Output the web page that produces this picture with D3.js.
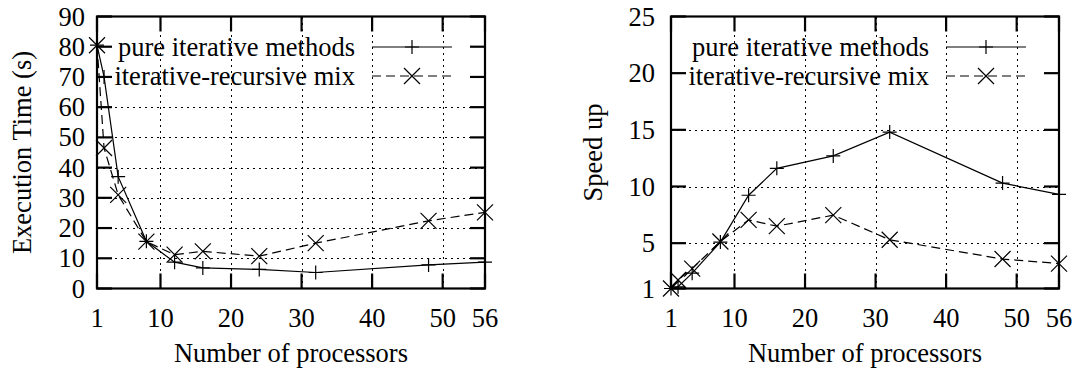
<!DOCTYPE html>
<html>
<head>
<meta charset="utf-8">
<script src="https://cdn.jsdelivr.net/npm/d3@7/dist/d3.min.js"></script>
<style>
html,body{margin:0;padding:0;background:#fff;}
svg{display:block;}
</style>
</head>
<body>
<svg id="chart" width="1074" height="369"></svg>
<script>
// ---- data ----
const processors = [1, 2, 4, 8, 12, 16, 24, 32, 48, 56];
const timePure = [80.5, 70, 37, 15.6, 8.7, 6.8, 6.3, 5.3, 7.8, 8.7];
const timeMix = [80.5, 46.5, 31, 15.5, 11.2, 12.3, 10.7, 15.0, 22.4, 25.2];
const speedPure = [1, 1.15, 2.35, 5.1, 9.23, 11.6, 12.7, 14.8, 10.3, 9.3];
const speedMix = [1, 1.75, 2.75, 5.15, 7.05, 6.5, 7.47, 5.3, 3.6, 3.2];
const xTicks = [1, 10, 20, 30, 40, 50, 56];
const timeTicks = [0, 10, 20, 30, 40, 50, 60, 70, 80, 90];
const speedTicks = [1, 5, 10, 15, 20, 25];
const seriesNames = ["pure iterative methods", "iterative-recursive mix"];
const xTitle = "Number of processors";
const timeTitle = "Execution Time (s)";
const speedTitle = "Speed up";

const svg = d3.select("#chart")
  .attr("font-family", "'Liberation Serif', 'Times New Roman', Times, 'DejaVu Serif', serif")
  .attr("font-size", 26.5);

function drawChart(o) {
  const g = svg.append("g");
  const x = d3.scaleLinear().domain([1, 56]).range([o.left, o.left + 388]);
  const y = d3.scaleLinear().domain(o.yDomain).range([288.5, 16.5]);
  const [x0, x1] = x.range();
  const [yb, yt] = y.range();
  const tickLen = 15;

  // grid
  const grid = g.append("g").attr("stroke", "#000").attr("stroke-width", 1)
    .attr("stroke-dasharray", "2,4").attr("shape-rendering", "crispEdges");
  xTicks.filter(v => v > 1 && v < 56).forEach(v => {
    grid.append("line").attr("x1", Math.round(x(v)) + 0.5).attr("x2", Math.round(x(v)) + 0.5)
      .attr("y1", yt).attr("y2", yb);
  });
  o.yTicks.filter(v => v > o.yDomain[0] && v < o.yDomain[1] && y(v) > 92).forEach(v => {
    grid.append("line").attr("y1", Math.round(y(v)) + 0.5).attr("y2", Math.round(y(v)) + 0.5)
      .attr("x1", x0).attr("x2", x1);
  });

  // ticks (all four sides, inward)
  const ticks = g.append("g").attr("stroke", "#000").attr("stroke-width", 2.2);
  xTicks.forEach(v => {
    ticks.append("line").attr("x1", x(v)).attr("x2", x(v)).attr("y1", yb).attr("y2", yb - tickLen);
    ticks.append("line").attr("x1", x(v)).attr("x2", x(v)).attr("y1", yt).attr("y2", yt + tickLen);
  });
  o.yTicks.forEach(v => {
    ticks.append("line").attr("y1", y(v)).attr("y2", y(v)).attr("x1", x0).attr("x2", x0 + tickLen);
    ticks.append("line").attr("y1", y(v)).attr("y2", y(v)).attr("x1", x1).attr("x2", x1 - tickLen);
  });

  // border
  g.append("rect").attr("x", x0).attr("y", yt).attr("width", x1 - x0).attr("height", yb - yt)
    .attr("fill", "none").attr("stroke", "#000").attr("stroke-width", 2.2);

  // tick labels
  xTicks.forEach(v => {
    g.append("text").attr("x", x(v)).attr("y", 327).attr("text-anchor", "middle").text(v);
  });
  o.yTicks.forEach(v => {
    g.append("text").attr("x", x0 - o.labelGap).attr("y", y(v) + 9).attr("text-anchor", "end").text(v);
  });

  // titles
  g.append("text").attr("x", (x0 + x1) / 2).attr("y", 362).attr("text-anchor", "middle").text(xTitle);
  g.append("text").attr("transform", `translate(${o.yTitleX},${(yt + yb) / 2}) rotate(-90)`)
    .attr("text-anchor", "middle").text(o.yTitle);

  // markers
  function plus(sel, cx, cy) {
    const h = 7;
    sel.append("path").attr("d", `M${cx - h},${cy}H${cx + h}M${cx},${cy - h}V${cy + h}`)
      .attr("stroke", "#000").attr("stroke-width", 1.2).attr("fill", "none");
  }
  function cross(sel, cx, cy) {
    const h = 8;
    sel.append("path").attr("d", `M${cx - h},${cy - h}L${cx + h},${cy + h}M${cx - h},${cy + h}L${cx + h},${cy - h}`)
      .attr("stroke", "#000").attr("stroke-width", 1.2).attr("fill", "none");
  }

  const line = d3.line().x(d => x(d[0])).y(d => y(d[1]));
  const dPure = processors.map((p, i) => [p, o.pure[i]]);
  const dMix = processors.map((p, i) => [p, o.mix[i]]);

  g.append("path").attr("d", line(dPure)).attr("fill", "none").attr("stroke", "#000").attr("stroke-width", 1.2);
  g.append("path").attr("d", line(dMix)).attr("fill", "none").attr("stroke", "#000").attr("stroke-width", 1.2)
    .attr("stroke-dasharray", "9,5");
  dPure.forEach(d => plus(g, x(d[0]), y(d[1])));
  dMix.forEach(d => cross(g, x(d[0]), y(d[1])));

  // legend
  const rows = [47, 76];
  const textEnd = x1 - 130;
  const s0 = x1 - 113, s1 = x1 - 33, sm = (s0 + s1) / 2;
  rows.forEach((ry, i) => {
    g.append("text").attr("x", textEnd).attr("y", ry + 9).attr("text-anchor", "end").text(seriesNames[i]);
    const l = g.append("line").attr("x1", s0).attr("x2", s1).attr("y1", ry).attr("y2", ry)
      .attr("stroke", "#000").attr("stroke-width", 1.2);
    if (i === 1) { l.attr("stroke-dasharray", "9,5"); cross(g, sm, ry); }
    else plus(g, sm, ry);
  });
}

drawChart({ left: 97, yDomain: [0, 90], yTicks: timeTicks, pure: timePure, mix: timeMix,
  yTitle: timeTitle, yTitleX: 31, labelGap: 12 });
drawChart({ left: 671, yDomain: [1, 25], yTicks: speedTicks, pure: speedPure, mix: speedMix,
  yTitle: speedTitle, yTitleX: 602, labelGap: 16 });
</script>
</body>
</html>
